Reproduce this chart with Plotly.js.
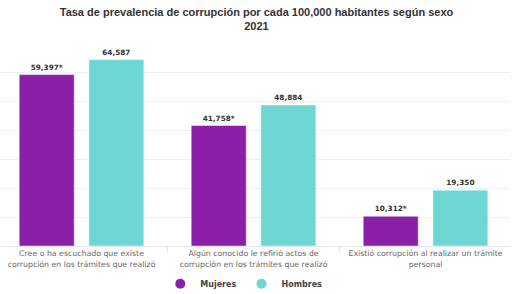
<!DOCTYPE html>
<html><head><meta charset="utf-8">
<script src="https://cdn.plot.ly/plotly-3.0.1.min.js"></script>
<style>html,body{margin:0;padding:0;background:#fff}#chart{width:513px;height:294px}</style>
</head><body><div id="chart"></div>
<script>
var categories = ["Cree o ha escuchado que existe<br>corrupción en los trámites que realizó",
                  "Algún conocido le refirió actos de<br>corrupción en los trámites que realizó",
                  "Existió corrupción al realizar un trámite<br>personal"];
var mujeres = [59397, 41758, 10312];
var hombres = [64587, 48884, 19350];
var mujeresLabels = ["59,397*", "41,758*", "10,312*"];
var hombresLabels = ["64,587", "48,884", "19,350"];
var colorM = "#8A20A8", colorH = "#6ED7D4";
var labelFont = {family: "DejaVu Sans, sans-serif", size: 7.3, color: "#333", weight: "bold"};
var traces = [
  {type: "bar", x: categories, y: mujeres, text: mujeresLabels, textposition: "outside", cliponaxis: false,
   textfont: labelFont, marker: {color: colorM, line: {color: "#fff", width: 0.5}}, showlegend: false, hoverinfo: "none"},
  {type: "bar", x: categories, y: hombres, text: hombresLabels, textposition: "outside", cliponaxis: false,
   textfont: labelFont, marker: {color: colorH, line: {color: "#fff", width: 0.5}}, showlegend: false, hoverinfo: "none"},
  {type: "scatter", mode: "markers", x: [null], y: [null], name: "Mujeres", marker: {color: colorM, size: 10, symbol: "circle"}},
  {type: "scatter", mode: "markers", x: [null], y: [null], name: "Hombres", marker: {color: colorH, size: 10, symbol: "circle"}}
];
var layout = {
  width: 513, height: 294,
  margin: {l: 0, r: 3, t: 44, b: 48},
  paper_bgcolor: "#fff", plot_bgcolor: "#fff",
  title: {text: "Tasa de prevalencia de corrupción por cada 100,000 habitantes según sexo<br>2021",
          font: {family: "Liberation Sans, Arial, sans-serif", size: 11, color: "#333", weight: "bold"},
          x: 0.5, xanchor: "center", y: 0.945, yanchor: "middle", automargin: false},
  barmode: "group", bargap: 0.19, bargroupgap: 0.21,
  xaxis: {type: "category", range: [-0.474, 2.491], automargin: false, showline: true, linecolor: "#e3e6ee", linewidth: 1,
          ticks: "outside", tickson: "boundaries", ticklen: 5, tickcolor: "#dfe3ec",
          showgrid: false, tickfont: {family: "DejaVu Sans, sans-serif", size: 7.8, color: "#666"}, fixedrange: true},
  yaxis: {range: [0, 70000], dtick: 10000, showticklabels: false, gridcolor: "#eef0f5", gridwidth: 1,
          zeroline: false, fixedrange: true, automargin: false},
  legend: {orientation: "h", x: 0.478, xanchor: "center", xref: "paper", yref: "container", y: 0.035, yanchor: "middle",
           font: {family: "DejaVu Sans, sans-serif", size: 8, color: "#444", weight: "bold"}},
  showlegend: true
};
Plotly.newPlot("chart", traces, layout, {displayModeBar: false, staticPlot: true});
</script></body></html>
